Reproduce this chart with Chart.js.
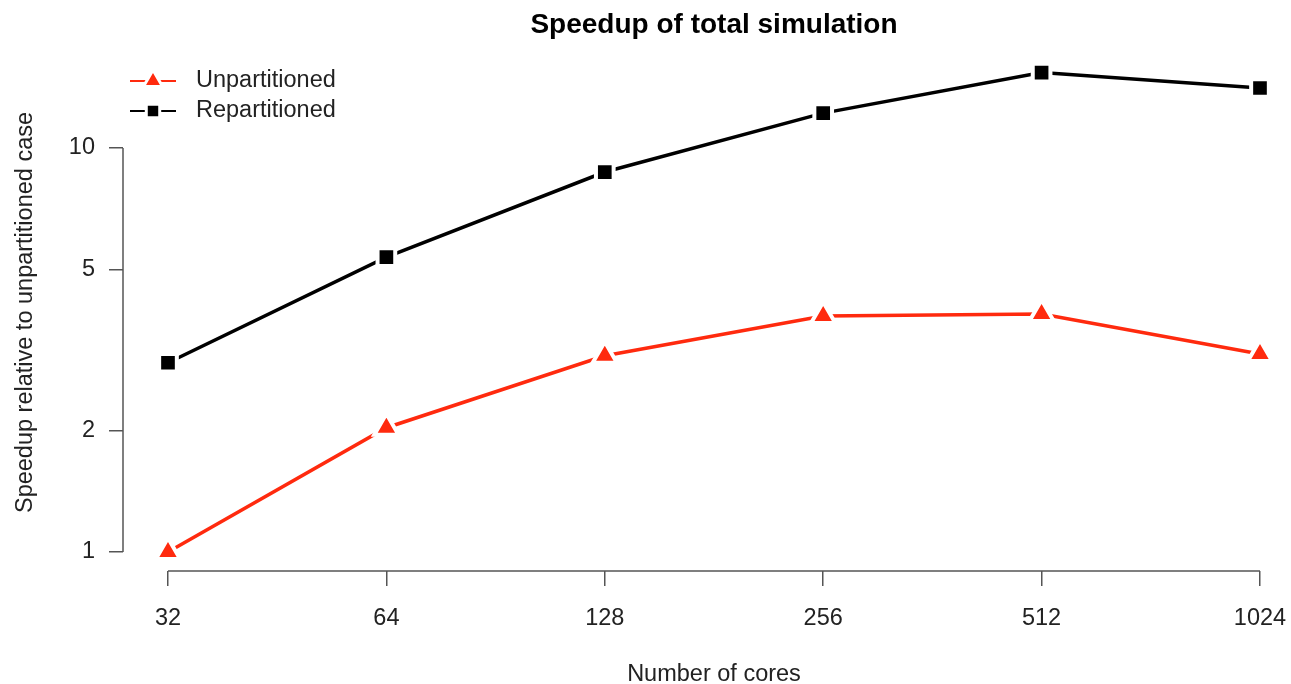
<!DOCTYPE html>
<html>
<head>
<meta charset="utf-8">
<script src="https://cdn.jsdelivr.net/npm/chart.js@4/dist/chart.umd.min.js"></script>
<style>
  html, body { margin: 0; padding: 0; background: #fff; }
  canvas { display: block; }
</style>
</head>
<body>
<canvas id="c" width="1291" height="684"></canvas>
<script>
// ---- data ----
const coreLabels = ['32', '64', '128', '256', '512', '1024'];
const unpartitioned = [1.00, 2.03, 3.06, 3.84, 3.88, 3.09];
const repartitioned = [2.94, 5.37, 8.72, 12.2, 15.37, 14.08];
const yTickValues = [1, 2, 5, 10];
const seriesNames = ['Unpartitioned', 'Repartitioned'];
const titleText = 'Speedup of total simulation';
const xTitleText = 'Number of cores';
const yTitleText = 'Speedup relative to unpartitioned case';

const FONT = '"Liberation Sans", Arial, Helvetica, sans-serif';
const RED = '#ff2a0e';
const BLACK = '#000000';
const AXIS = '#555555';
const TXT = 23.5;

const toPoints = arr => arr.map((v, i) => ({ x: i, y: v }));

const decorPlugin = {
  id: 'decor',
  afterDraw(chart) {
    const ctx = chart.ctx;
    const xs = chart.scales.x, ys = chart.scales.y;
    const ca = chart.chartArea;
    ctx.save();
    // axis lines (R style, spanning first to last tick)
    ctx.strokeStyle = AXIS;
    ctx.lineWidth = 1.5;
    ctx.beginPath();
    ctx.moveTo(ca.left, ys.getPixelForValue(yTickValues[0]));
    ctx.lineTo(ca.left, ys.getPixelForValue(yTickValues[yTickValues.length - 1]));
    ctx.moveTo(xs.getPixelForValue(0), ca.bottom);
    ctx.lineTo(xs.getPixelForValue(coreLabels.length - 1), ca.bottom);
    ctx.stroke();

    const cx = xs.getPixelForValue((coreLabels.length - 1) / 2);
    // title
    ctx.fillStyle = '#000';
    ctx.font = 'bold 28px ' + FONT;
    ctx.textAlign = 'center';
    ctx.textBaseline = 'middle';
    ctx.fillText(titleText, cx, 25);
    // x title
    ctx.font = TXT + 'px ' + FONT;
    ctx.fillStyle = '#222';
    ctx.fillText(xTitleText, cx, 675);
    // y title
    ctx.save();
    ctx.translate(26, (ca.top + ca.bottom) / 2);
    ctx.rotate(-Math.PI / 2);
    ctx.fillText(yTitleText, 0, 0);
    ctx.restore();

    // legend
    chart.data.datasets.forEach((ds, i) => {
      const y = 81 + i * 30;
      ctx.strokeStyle = ds.borderColor;
      ctx.lineWidth = 2;
      ctx.beginPath();
      ctx.moveTo(130, y);
      ctx.lineTo(176, y);
      ctx.stroke();
      ctx.fillStyle = ds.pointBackgroundColor;
      ctx.strokeStyle = '#fff';
      ctx.lineWidth = 3;
      Chart.helpers.drawPoint(ctx, {
        pointStyle: ds.pointStyle,
        radius: ds.pointRadius - 3,
        borderWidth: 3,
        rotation: 0
      }, 153, y);
      ctx.fillStyle = '#222';
      ctx.font = TXT + 'px ' + FONT;
      ctx.textAlign = 'left';
      ctx.textBaseline = 'middle';
      ctx.fillText(ds.label, 196, y);
    });
    ctx.restore();
  }
};

new Chart(document.getElementById('c'), {
  type: 'line',
  data: {
    datasets: [
      {
        label: seriesNames[0],
        data: toPoints(unpartitioned),
        borderColor: RED,
        backgroundColor: RED,
        borderWidth: 3.5,
        pointStyle: 'triangle',
        pointRadius: 14,
        pointBackgroundColor: RED,
        pointBorderColor: '#ffffff',
        pointBorderWidth: 4,
        tension: 0,
        clip: false
      },
      {
        label: seriesNames[1],
        data: toPoints(repartitioned),
        borderColor: BLACK,
        backgroundColor: BLACK,
        borderWidth: 3.5,
        pointStyle: 'rect',
        pointRadius: 12.5,
        pointBackgroundColor: BLACK,
        pointBorderColor: '#ffffff',
        pointBorderWidth: 4,
        tension: 0,
        clip: false
      }
    ]
  },
  options: {
    responsive: false,
    animation: false,
    layout: { autoPadding: false, padding: { top: 54, left: 0, right: 0, bottom: 0 } },
    plugins: {
      legend: { display: false },
      title: { display: false },
      tooltip: { enabled: false }
    },
    scales: {
      x: {
        type: 'linear',
        min: -0.206,
        max: 5.142,
        afterBuildTicks: s => { s.ticks = coreLabels.map((_, i) => ({ value: i })); },
        afterFit: s => { s.height = 684 - 571; s.paddingLeft = 0; s.paddingRight = 0; },
        grid: { display: true, drawOnChartArea: false, drawTicks: true, tickLength: 15, color: AXIS, lineWidth: 1.5 },
        border: { display: false },
        ticks: {
          autoSkip: false,
          maxRotation: 0,
          padding: 18,
          color: '#222',
          font: { family: FONT, size: TXT },
          callback: v => coreLabels[v]
        }
      },
      y: {
        type: 'logarithmic',
        min: 0.897,
        max: 17.09,
        afterBuildTicks: s => { s.ticks = yTickValues.map(v => ({ value: v })); },
        afterFit: s => { s.width = 123; s.paddingTop = 0; s.paddingBottom = 0; },
        grid: { display: true, drawOnChartArea: false, drawTicks: true, tickLength: 14, color: AXIS, lineWidth: 1.5 },
        border: { display: false },
        ticks: {
          autoSkip: false,
          padding: 14,
          color: '#222',
          font: { family: FONT, size: TXT },
          callback: v => String(v)
        }
      }
    }
  },
  plugins: [decorPlugin]
});
</script>
</body>
</html>
